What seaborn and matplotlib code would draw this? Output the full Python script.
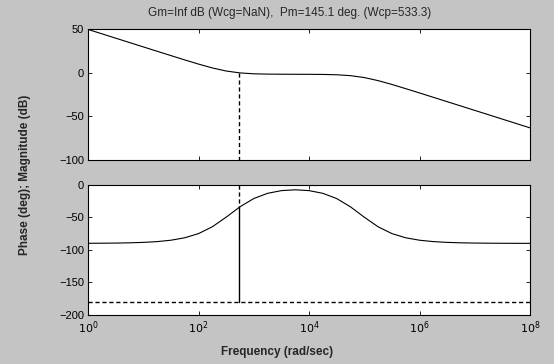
import numpy as np
import pandas as pd
import matplotlib
matplotlib.use("Agg")
import matplotlib.pyplot as plt
import seaborn as sns

# ---- data ----
log_freq = [0, 0.25, 0.5, 0.75, 1, 1.25, 1.5, 1.75, 2, 2.25, 2.5, 2.75, 3, 3.25,
            3.5, 3.75, 4, 4.25, 4.5, 4.75, 5, 5.25, 5.5, 5.75, 6, 6.25, 6.5, 6.75,
            7, 7.25, 7.5, 7.75, 8]
magnitude_db = [49.63, 44.63, 39.63, 34.63, 29.63, 24.64, 19.66, 14.73, 9.94, 5.54,
                2.03, -0.14, -1.14, -1.51, -1.64, -1.69, -1.74, -1.87, -2.25, -3.26,
                -5.46, -8.99, -13.39, -18.19, -23.12, -28.10, -33.09, -38.09, -43.09,
                -48.09, -53.09, -58.09, -63.09]
phase_deg = [-89.84, -89.72, -89.51, -89.13, -88.44, -87.25, -85.11, -81.35, -74.88,
             -64.34, -49.55, -33.59, -20.88, -12.90, -8.77, -7.53, -8.81, -12.99,
             -21.05, -33.83, -49.80, -64.55, -75.01, -81.43, -85.16, -87.27, -88.46,
             -89.13, -89.51, -89.72, -89.84, -89.91, -89.95]
wcp = 533.3
pm = 145.1
title_text = "Gm=Inf dB (Wcg=NaN),  Pm=145.1 deg. (Wcp=533.3)"
x_ticks = [1e0, 1e2, 1e4, 1e6, 1e8]
x_tick_labels = [r"$10^{0}$", r"$10^{2}$", r"$10^{4}$", r"$10^{6}$", r"$10^{8}$"]
mag_ticks = [50, 0, -50, -100]
phase_ticks = [0, -50, -100, -150, -200]

df = pd.DataFrame({"freq": 10 ** np.array(log_freq, dtype=float),
                   "mag": magnitude_db, "phase": phase_deg})

sns.set_theme(style="ticks")
plt.rcParams["font.family"] = ["Liberation Sans", "DejaVu Sans"]

bg = "#c4c4c4"
fig = plt.figure(figsize=(5.54, 3.64), dpi=100, facecolor=bg)
ax1 = fig.add_axes([0.159, 0.560, 0.798, 0.360])
ax2 = fig.add_axes([0.159, 0.135, 0.798, 0.357])

for ax in (ax1, ax2):
    ax.set_facecolor("white")
    ax.set_xscale("log")
    ax.set_xlim(1e0, 1e8)
    ax.tick_params(direction="in", top=True, right=True, length=3, width=0.6,
                   labelsize=8, colors="black", which="major", pad=3)
    ax.tick_params(which="minor", bottom=False, top=False, left=False, right=False)
    for s in ax.spines.values():
        s.set_linewidth(0.8)
        s.set_color("black")

sns.lineplot(data=df, x="freq", y="mag", ax=ax1, color="black", linewidth=0.8)
sns.lineplot(data=df, x="freq", y="phase", ax=ax2, color="black", linewidth=0.8)

ax1.set_ylim(-100, 50)
ax1.set_yticks(mag_ticks)
ax1.set_xticks(x_ticks)
ax1.set_xticklabels([])
ax1.set_xlabel("")
ax1.set_ylabel("")
ax1.plot([wcp, wcp], [0, -100], color="black", linewidth=1.0, dashes=(3, 2))

ax2.set_ylim(-200, 0)
ax2.set_yticks(phase_ticks)
ax2.set_xticks(x_ticks)
ax2.set_xticklabels(x_tick_labels)
ax2.set_xlabel("")
ax2.set_ylabel("")
ax2.axhline(-180, color="black", linewidth=1.0, dashes=(3, 2))
ax2.plot([wcp, wcp], [0, pm - 180], color="black", linewidth=1.0, dashes=(3, 2))
ax2.plot([wcp, wcp], [pm - 180, -180], color="black", linewidth=1.0)

fig.text(0.523, 0.965, title_text, ha="center", va="center", fontsize=8.5)
fig.text(0.50, 0.032, "Frequency (rad/sec)", ha="center", va="center",
         fontsize=8.5, fontweight="bold")
fig.text(0.045, 0.52, "Phase (deg); Magnitude (dB)", ha="center", va="center",
         rotation=90, fontsize=8.5, fontweight="bold")

fig.savefig("out.png", dpi=100, facecolor=bg)
